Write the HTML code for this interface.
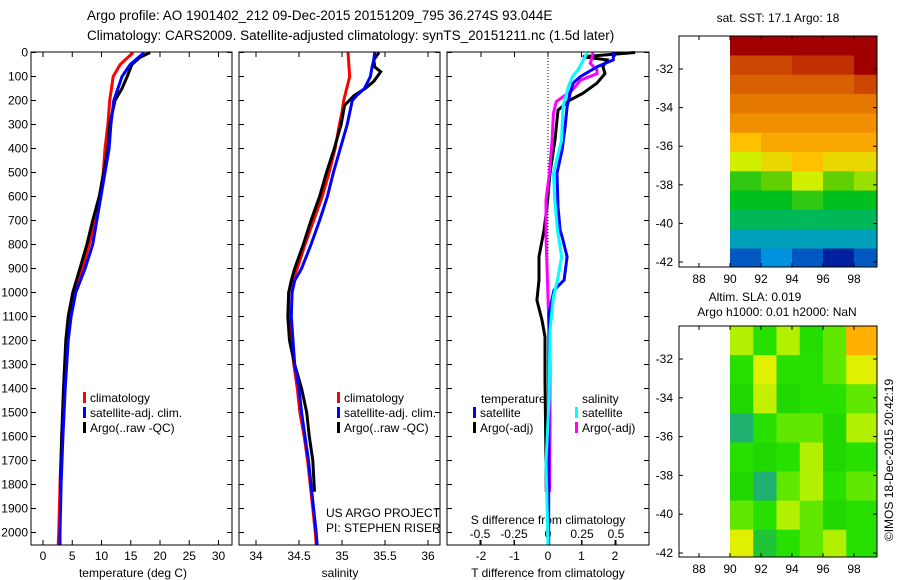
<!DOCTYPE html>
<html><head><meta charset="utf-8">
<style>
html,body{margin:0;padding:0;background:#fff;}
svg{display:block;font-family:"Liberation Sans",sans-serif;}
text{fill:#000;}
</style></head>
<body>
<svg id="fig" width="900" height="580" viewBox="0 0 900 580" xmlns="http://www.w3.org/2000/svg">
<text x="87" y="20" font-size="13.5">Argo profile: AO 1901402_212 09-Dec-2015 20151209_795 36.274S 93.044E</text>
<text x="87" y="40" font-size="13.5">Climatology: CARS2009. Satellite-adjusted climatology: synTS_20151211.nc (1.5d later)</text>
<g id="g"></g>
</svg>
<script>
// ---- data ----
const depthTicks=[0,100,200,300,400,500,600,700,800,900,1000,1100,1200,1300,1400,1500,1600,1700,1800,1900,2000];
const tempTicks=[0,5,10,15,20,25,30];
const salTicks=[34,34.5,35,35.5,36];
const tdTicks=[-2,-1,0,1,2];
const sdTicks=[-0.5,-0.25,0,0.25,0.5];
const sdTickLabels=["-0.5","-0.25","0","0.25","0.5"];

const tClimD=[0,50,100,200,300,400,500,600,700,800,900,1000,1100,1200,1400,1600,1800,2000,2050];
const tClimV=[15.4,13.2,12,11.4,11.1,10.6,10.3,9.7,8.9,7.9,6.7,5.3,4.6,4.1,3.6,3.2,2.9,2.7,2.6];
const tSatD=[0,50,100,200,300,400,500,600,700,800,900,1000,1100,1200,1400,1600,1800,2000,2050];
const tSatV=[17.3,14.9,13.5,12.1,11.6,11.3,10.6,9.9,9.2,8.5,7.2,5.6,4.8,4.3,3.8,3.4,3.1,2.9,2.9];
const tArgoD=[0,20,50,100,150,200,300,400,500,600,700,800,900,1000,1100,1200,1400,1600,1830];
const tArgoV=[18.3,16.6,15.2,14.4,13.5,12.3,11.4,11.1,10.4,9.6,8.5,7.5,6.3,5.1,4.3,3.9,3.5,3.2,3.0];

const sClimD=[0,100,200,250,300,400,500,600,700,800,900,950,1000,1100,1200,1300,1400,1500,1600,1700,1800,1900,2000,2050];
const sClimV=[35.07,35.09,35.02,35.0,34.97,34.92,34.85,34.77,34.67,34.57,34.48,34.42,34.38,34.38,34.41,34.44,34.48,34.51,34.56,34.60,34.63,34.66,34.69,34.70];
const sSatD=[0,30,60,100,150,180,200,300,400,500,600,700,800,900,950,1000,1100,1200,1300,1400,1500,1600,1700,1800,1900,2000,2050];
const sSatV=[35.38,35.37,35.35,35.33,35.26,35.17,35.12,35.06,34.98,34.90,34.83,34.74,34.64,34.53,34.45,34.42,34.41,34.43,34.45,34.50,34.53,34.57,34.61,34.64,34.67,34.70,34.71];
const sArgoD=[0,30,60,80,120,150,180,220,300,400,500,600,700,800,900,950,1000,1100,1200,1300,1400,1500,1600,1700,1830];
const sArgoV=[35.43,35.37,35.38,35.45,35.37,35.27,35.14,35.03,34.99,34.91,34.82,34.74,34.64,34.55,34.45,34.41,34.38,34.37,34.39,34.45,34.53,34.59,34.62,34.66,34.68];

const dtSatD=[0,31,59,101,128,170,226,310,406,503,643,740,768,851,948,990,1085,1400,1800,2050];
const dtSatV=[1.95,1.95,1.47,0.96,0.75,0.66,0.57,0.51,0.42,0.27,0.30,0.36,0.42,0.57,0.48,0.18,0.03,0.02,0.02,0.02];
const dtArgoD=[0,18,31,59,88,128,170,198,240,365,503,643,740,851,948,1032,1115,1185,1365,1600,1830];
const dtArgoV=[2.6,1.04,1.76,1.64,1.70,1.46,1.04,0.66,0.30,0.21,0.06,-0.03,-0.12,-0.27,-0.27,-0.33,-0.18,-0.09,-0.09,-0.07,-0.05];
const dsSatD=[0,31,73,101,142,226,365,503,615,740,851,948,1018,1157,1435,1712,2050];
const dsSatV=[0.29,0.26,0.22,0.18,0.15,0.11,0.10,0.04,0.05,0.07,0.10,0.07,0.04,0.015,0.008,-0.015,0.0];
const dsArgoD=[0,31,45,73,88,115,156,205,254,365,503,615,768,1018,1296,1574,1830];
const dsArgoV=[0.33,0.32,0.31,0.36,0.36,0.24,0.18,0.06,0.04,0.03,0.01,-0.015,-0.015,0,0.015,0.015,0.012];

const mapLons=[88,90,92,94,96,98];
const mapLats=[-32,-34,-36,-38,-40,-42];
const sstLatEdges=[-30.3,-31.3,-32.3,-33.3,-34.3,-35.3,-36.3,-37.3,-38.3,-39.3,-40.3,-41.3,-42.3];
const sstLonEdges=[90,92,94,96,98,99.5];
const sstVals=[
[19,19,19,19,19],
[18,18,18.5,18.5,19],
[17.5,17.5,17.5,17.5,18],
[17,17,17,17,17],
[16.5,16.5,16.5,16.5,16.5],
[15.5,16,16,16,16],
[14.5,15,15.5,15,15],
[13,13.5,14.5,13.5,14],
[12.5,12.5,13,12.5,12.5],
[12,12,12,12,12],
[11,11,11,11,11],
[10,10.5,10,9.5,10]];
const slaLatEdges=[-30.3,-31.8,-33.3,-34.8,-36.3,-37.8,-39.3,-40.8,-42.3];
const slaLonEdges=[90,91.5,93,94.5,96,97.5,99.5];
const slaVals=[
[1,0,1,-0.2,0.5,2.5],
[0,1.5,0,0,0.5,1.5],
[-0.5,1.2,-0.5,0,0,0.5],
[-1.5,0,0.5,0.5,-0.5,1],
[0,-0.5,0,1,-0.5,0],
[-0.5,-1.5,0.5,1,0,0.5],
[0.5,0,1,0.5,-0.5,0],
[1.5,-1,0,0.5,1,0]];

// ---- helpers ----
const NS="http://www.w3.org/2000/svg";
const G=document.getElementById('g');
function mk(tag,attrs,parent){const e=document.createElementNS(NS,tag);for(const k in attrs)e.setAttribute(k,attrs[k]);(parent||G).appendChild(e);return e;}
function txt(x,y,s,size,anchor,parent){const e=mk('text',{x:x,y:y,'font-size':size||12,'text-anchor':anchor||'start'},parent);e.textContent=s;return e;}

const Y=d=>52.5+d*0.24;
const yTop=52,yBot=545;
const xT=v=>43+v*5.85;
const xS=v=>256+(v-34)*86;
const xDT=v=>548+v*33.5;
const xDS=v=>548+v*136;

function box(x0,x1,name){
  const r=mk('rect',{x:x0,y:yTop,width:x1-x0,height:yBot-yTop,fill:'none',stroke:'#000','stroke-width':1});
  
  
  depthTicks.forEach(d=>{mk('line',{x1:x0,x2:x0+5,y1:Y(d),y2:Y(d),stroke:'#000'});mk('line',{x1:x1,x2:x1-5,y1:Y(d),y2:Y(d),stroke:'#000'});});
}
function line(D,V,fx,color,w,name){
  let p='';D.forEach((d,i)=>{p+=(i?'L':'M')+fx(V[i]).toFixed(1)+','+Y(d).toFixed(1);});
  const e=mk('path',{d:p,fill:'none',stroke:color,'stroke-width':w,'stroke-linejoin':'miter'});
  
  
}
function xticks(ticks,fx,x0,x1,labels,ly){
  ticks.forEach((t,i)=>{const x=fx(t);if(x<x0||x>x1)return;
    mk('line',{x1:x,x2:x,y1:yBot,y2:yBot-5,stroke:'#000'});mk('line',{x1:x,x2:x,y1:yTop,y2:yTop+5,stroke:'#000'});
    const e=txt(x,ly,labels?labels[i]:String(t),12,'middle');
    
    });
}
function legend(x,y,items){
  items.forEach((it,i)=>{mk('rect',{x:x,y:y+i*15-6,width:3,height:11,fill:it[0]});
    const e=txt(x+7,y+i*15+4,it[1],12);
    
    });
}
function named(e,n){
  
  
  return e;
}

// Panel 1: temperature
box(31,232,'temperature-panel');
depthTicks.forEach(d=>{const e=txt(28,Y(d)+4,String(d),12,'end');
  
  });
xticks(tempTicks,xT,31,232,null,560);
named(txt(133,577,'temperature (deg C)',12,'middle'),'temperature-axis-title');
line(tClimD,tClimV,xT,'#ff0000',3,'temp-climatology-line');
line(tArgoD,tArgoV,xT,'#000000',3,'temp-argo-line');
line(tSatD,tSatV,xT,'#0000ff',3,'temp-satellite-line');
legend(83,398,[['#ff0000','climatology'],['#0000ff','satellite-adj. clim.'],['#000000','Argo(..raw -QC)']]);

// Panel 2: salinity
box(239,440,'salinity-panel');
xticks(salTicks,xS,239,440,null,560);
named(txt(340,577,'salinity',12,'middle'),'salinity-axis-title');
line(sClimD,sClimV,xS,'#ff0000',3,'sal-climatology-line');
line(sArgoD,sArgoV,xS,'#000000',3,'sal-argo-line');
line(sSatD,sSatV,xS,'#0000ff',3,'sal-satellite-line');
legend(337,398,[['#ff0000','climatology'],['#0000ff','satellite-adj. clim.'],['#000000','Argo(..raw -QC)']]);
named(txt(326,517,'US ARGO PROJECT',12),'project-credit');
named(txt(326,532,'PI: STEPHEN RISER',12),'pi-credit');

// Panel 3: differences
box(447,649,'difference-panel');
mk('line',{x1:548,x2:548,y1:yTop,y2:yBot,stroke:'#000','stroke-dasharray':'1,2'});
xticks(tdTicks,xDT,447,649,null,560);
sdTicks.forEach((t,i)=>{const x=xDS(t);mk('line',{x1:x,x2:x,y1:yBot,y2:yBot-5,stroke:'#000'});
  const e=txt(x,538,sdTickLabels[i],12,'middle');
  
  });
named(txt(548,524,'S difference from climatology',12,'middle'),'s-diff-axis-title');
named(txt(548,577,'T difference from climatology',12,'middle'),'t-diff-axis-title');
line(dtArgoD,dtArgoV,xDT,'#000000',3,'tdiff-argo-line');
line(dsArgoD,dsArgoV,xDS,'#ff00ff',3,'sdiff-argo-line');
line(dtSatD,dtSatV,xDT,'#0000ff',3,'tdiff-satellite-line');
line(dsSatD,dsSatV,xDS,'#00ffff',3,'sdiff-satellite-line');
named(txt(481,403,'temperature',12),'legend-temperature-header');
legend(473,413,[['#0000ff','satellite'],['#000000','Argo(-adj)']]);
named(txt(582,403,'salinity',12),'legend-salinity-header');
legend(575,413,[['#00ffff','satellite'],['#ff00ff','Argo(-adj)']]);

// ---- maps ----
const mX=lon=>699+(lon-88)*15.5;
function ramp(st,v){
  if(v<=st[0][0])return 'rgb('+st[0][1]+')';
  for(let i=1;i<st.length;i++){if(v<=st[i][0]){const f=(v-st[i-1][0])/(st[i][0]-st[i-1][0]);const a=st[i-1][1],b=st[i][1];
    return 'rgb('+a.map((c,k)=>Math.round(c+(b[k]-c)*f)).join(',')+')';}}
  return 'rgb('+st[st.length-1][1]+')';
}
function sstColor(v){
  return ramp([[9.5,[0,32,160]],[10.5,[0,144,224]],[11.5,[0,176,144]],[12.5,[0,192,32]],[13.5,[96,208,0]],[14.5,[208,240,0]],[15.5,[255,192,0]],[16.5,[240,144,0]],[17.5,[216,96,0]],[18.5,[192,48,0]],[19,[160,0,0]]],v);
}
function slaColor(v){
  return ramp([[-1.5,[32,176,112]],[-0.5,[32,216,0]],[0,[40,224,0]],[0.5,[96,232,0]],[1,[176,240,0]],[1.5,[224,240,0]],[2.5,[255,176,0]]],v);
}
function mapPanel(y0,y1,latY,latEdges,lonEdges,vals,colorFn,name){
  const mg=mk('g',{});
  
  
  vals.forEach((row,i)=>row.forEach((v,j)=>{
    const x=mX(lonEdges[j]),xe=Math.min(mX(lonEdges[j+1]),877);
    const ya=Math.max(latY(latEdges[i]),y0),yb=Math.min(latY(latEdges[i+1]),y1);
    const c=mk('rect',{x:x,y:ya,width:xe-x+0.5,height:yb-ya+0.5,fill:colorFn(v)},mg);
    
    
  }));
  mk('rect',{x:679,y:y0,width:198,height:y1-y0,fill:'none',stroke:'#000'},mg);
  mapLons.forEach(l=>{const x=mX(l);mk('line',{x1:x,x2:x,y1:y1,y2:y1-4,stroke:'#000'},mg);mk('line',{x1:x,x2:x,y1:y0,y2:y0+4,stroke:'#000'},mg);
    txt(x,y1+16,String(l),12,'middle',mg);});
  mapLats.forEach(l=>{const y=latY(l);mk('line',{x1:679,x2:683,y1:y,y2:y,stroke:'#000'},mg);mk('line',{x1:877,x2:873,y1:y,y2:y,stroke:'#000'},mg);
    txt(673,y+4,String(l),12,'end',mg);});
}
mapPanel(36,267,lat=>69+(-32-lat)*19.3,sstLatEdges,sstLonEdges,sstVals,sstColor,'sst-map');
mapPanel(326,557,lat=>359+(-32-lat)*19.4,slaLatEdges,slaLonEdges,slaVals,slaColor,'sla-map');
named(txt(778,22,'sat. SST: 17.1  Argo: 18',12,'middle'),'sst-map-title');
named(txt(755,301,'Altim. SLA: 0.019',12,'middle'),'sla-map-title');
named(txt(777,316,'Argo h1000: 0.01 h2000: NaN',12,'middle'),'sla-map-subtitle');
const cr=txt(0,0,'©IMOS 18-Dec-2015 20:42:19',12,'middle');
cr.setAttribute('transform','translate(893,460) rotate(-90)');


</script>
</body></html>
